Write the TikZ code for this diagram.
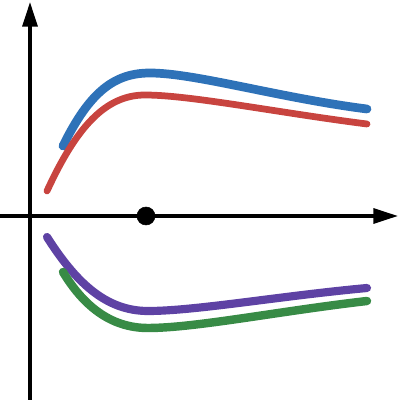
\documentclass[tikz,border=0pt]{standalone}
\usepackage{xcolor}
\usepackage{tikz}
\usetikzlibrary{arrows.meta}
\definecolor{curveblue}{RGB}{46, 114, 184}
\definecolor{curvered}{RGB}{200, 68, 63}
\definecolor{curvepurple}{RGB}{94, 66, 164}
\definecolor{curvegreen}{RGB}{56, 139, 70}

\begin{document}
\begin{tikzpicture}[x=0.025cm, y=0.025cm, line cap=round]
\useasboundingbox (-30,-184) rectangle (370,216);
\draw[line width=2.4pt, -{Triangle[length=17.5pt, width=10.6pt]}] (-30,0) -- (368,0);
\draw[line width=2.4pt, -{Triangle[length=17.5pt, width=10.6pt]}] (0,-184) -- (0,214);
\draw[curveblue, line width=6.2pt] (33,70) .. controls (60,125) and (85,143) .. (120,143)
  .. controls (165,143) and (250,118) .. (337,107);
\draw[curvered, line width=4.8pt] (17,25) .. controls (46,88) and (75,121) .. (115,121)
  .. controls (160,121) and (250,103) .. (337,92);
\draw[curvepurple, line width=5.8pt] (17,-21) .. controls (45,-65) and (75,-95) .. (118,-95)
  .. controls (165,-95) and (250,-80) .. (337,-72);
\draw[curvegreen, line width=6pt] (33,-56) .. controls (53,-89) and (80,-112) .. (118,-112)
  .. controls (165,-112) and (250,-95) .. (337,-85);
\filldraw[black] (116,0) circle (9);
\end{tikzpicture}
\end{document}
